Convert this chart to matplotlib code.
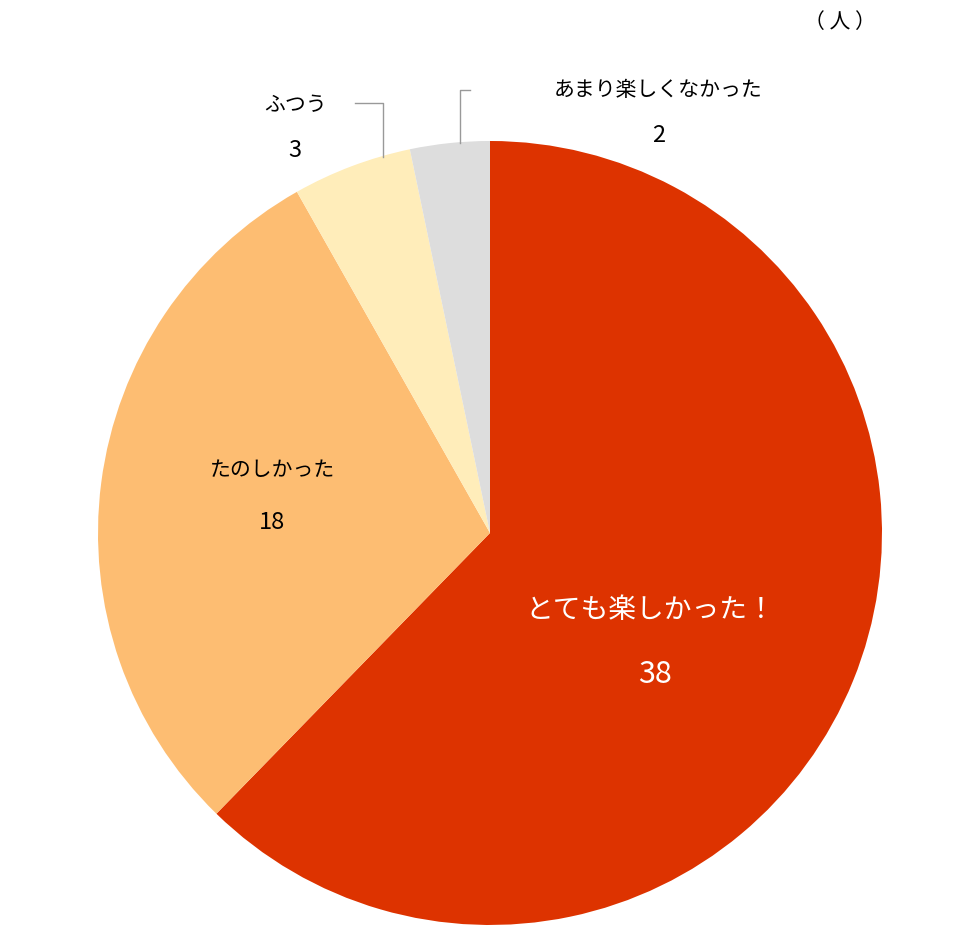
import matplotlib
matplotlib.use("Agg")
import matplotlib.pyplot as plt

plt.rcParams['font.family'] = ['Noto Sans CJK JP', 'DejaVu Sans']

categories = ["とても楽しかった！", "たのしかった", "ふつう", "あまり楽しくなかった"]
values = [38, 18, 3, 2]
colors = ["#DD3300", "#FDBD72", "#FFEDBA", "#DDDDDD"]

fig = plt.figure(figsize=(9.8, 9.3), dpi=100)
ax = fig.add_axes([0.1, 0.0054, 0.8, 0.843])
ax.pie(values, colors=colors, startangle=90, counterclock=False,
       wedgeprops=dict(linewidth=0))
ax.set_xlim(-1, 1); ax.set_ylim(-1, 1)
ax.set_aspect('equal')
ax.axis('off')

ax.text(0.408, -0.196, categories[0], color='white', fontsize=20, ha='center', va='center')
ax.text(0.42, -0.362, str(values[0]), color='white', fontsize=22, ha='center', va='center')
ax.text(-0.556, 0.161, categories[1], color='black', fontsize=15, ha='center', va='center')
ax.text(-0.556, 0.028, str(values[1]), color='black', fontsize=17, ha='center', va='center')
ax.text(-0.497, 1.092, categories[2], color='black', fontsize=15, ha='center', va='center', clip_on=False)
ax.text(-0.497, 0.977, str(values[2]), color='black', fontsize=17, ha='center', va='center', clip_on=False)
ax.text(0.429, 1.13, categories[3], color='black', fontsize=15, ha='center', va='center', clip_on=False)
ax.text(0.429, 1.015, str(values[3]), color='black', fontsize=17, ha='center', va='center', clip_on=False)
ax.text(0.893, 1.304, "（ 人 ）", color='black', fontsize=15, ha='center', va='center', clip_on=False)

ax.plot([-0.344, -0.273, -0.273], [1.097, 1.097, 0.959], color='#999999', lw=1, clip_on=False)
ax.plot([-0.051, -0.0765, -0.0765], [1.130, 1.130, 0.995], color='#999999', lw=1, clip_on=False)

fig.savefig("out.png", dpi=100)
